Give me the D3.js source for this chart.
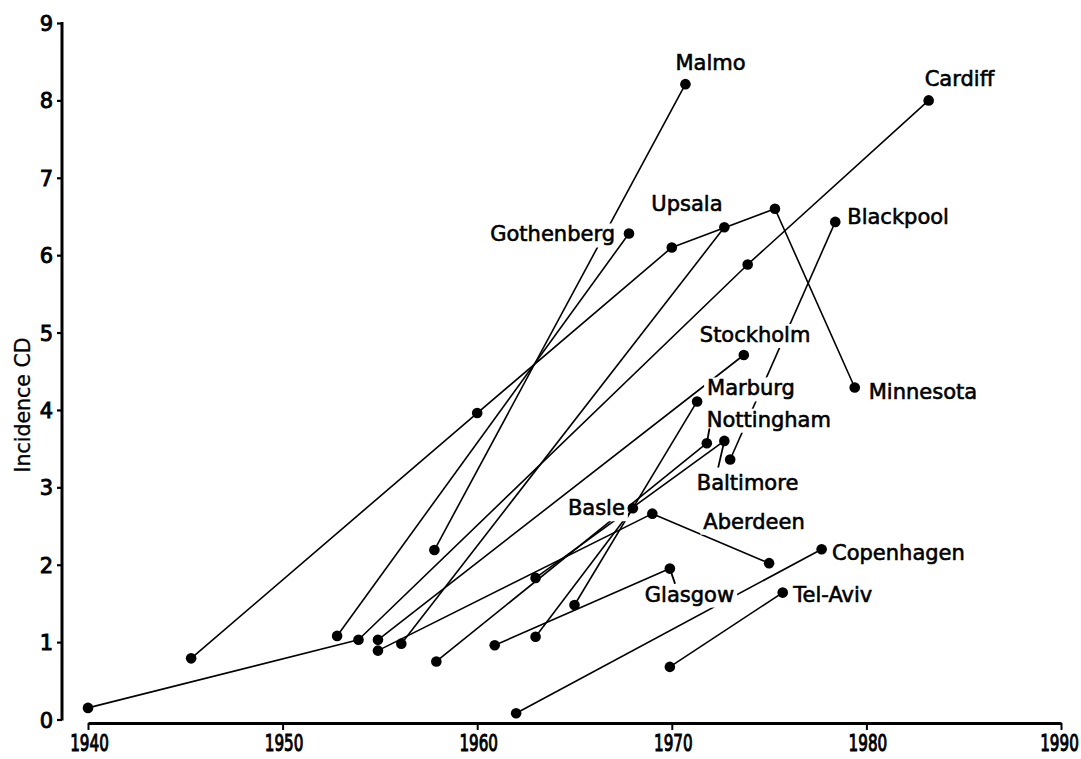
<!DOCTYPE html>
<html>
<head>
<meta charset="utf-8">
<script src="https://cdn.jsdelivr.net/npm/d3@7"></script>
<style>
  html, body { margin: 0; padding: 0; background: #fff; }
  svg { display: block; }
</style>
</head>
<body>
<svg id="chart" width="1081" height="759"></svg>
<script>
// Axis ticks
const yearTicks = [1940, 1950, 1960, 1970, 1980, 1990];
const incidenceTicks = [0, 1, 2, 3, 4, 5, 6, 7, 8, 9];

// Crohn's disease incidence per survey: [mid-year of period, incidence]
const cardiff    = [[1940.0, 0.15], [1953.9, 1.03], [1973.9, 5.88], [1983.2, 8.00]];
const minnesota  = [[1945.3, 0.79], [1960.0, 3.96], [1970.0, 6.10], [1975.3, 6.60], [1979.4, 4.29]];
const gothenberg = [[1952.8, 1.08], [1967.8, 6.28]];
const malmo      = [[1957.8, 2.19], [1970.7, 8.21]];
const upsala     = [[1956.1, 0.98], [1972.7, 6.36]];
const stockholm  = [[1954.9, 1.03], [1973.7, 4.71]];
const aberdeen   = [[1954.9, 0.89], [1969.0, 2.66], [1975.0, 2.02]];
const nottingham = [[1957.9, 0.75], [1971.8, 3.57]];
const baltimore  = [[1963.0, 1.83], [1972.7, 3.60]];
const blackpool  = [[1973.0, 3.36], [1978.4, 6.43]];
const basle      = [[1963.0, 1.07], [1968.0, 2.73]];
const marburg    = [[1965.0, 1.48], [1971.3, 4.11]];
const glasgow    = [[1960.9, 0.96], [1969.9, 1.95]];
const copenhagen = [[1962.0, 0.08], [1977.7, 2.20]];
const telAviv    = [[1969.9, 0.68], [1975.7, 1.64]];

const cityNames = ["Malmo", "Cardiff", "Gothenberg", "Upsala", "Blackpool", "Stockholm",
  "Minnesota", "Marburg", "Nottingham", "Baltimore", "Basle", "Aberdeen",
  "Copenhagen", "Glasgow", "Tel-Aviv"];
const citySeries = [malmo, cardiff, gothenberg, upsala, blackpool, stockholm,
  minnesota, marburg, nottingham, baltimore, basle, aberdeen,
  copenhagen, glasgow, telAviv];

// Label placement: pixel offset from an anchor point of the series (default: last point),
// optional leader line from that point.
const labelLayout = {
  "Malmo":      { dx: -10, dy: -14 },
  "Cardiff":    { dx: -4,  dy: -14 },
  "Gothenberg": { dx: -14, dy: 8, anchor: "end" },
  "Upsala":     { dx: -73, dy: -16.5 },
  "Blackpool":  { dx: 12,  dy: 2 },
  "Stockholm":  { dx: -44, dy: -13 },
  "Minnesota":  { dx: 14,  dy: 11.5 },
  "Marburg":    { dx: 10,  dy: -6 },
  "Nottingham": { dx: 0,   dy: -16.5, leader: [2.5, -14] },
  "Baltimore":  { dx: -27.6, dy: 49, leader: [-6, 26] },
  "Basle":      { dx: -8,  dy: 7, anchor: "end" },
  "Aberdeen":   { at: 1, dx: 51, dy: 15 },
  "Copenhagen": { dx: 10.4, dy: 11 },
  "Glasgow":    { dx: -25, dy: 33, leader: [5, 14.5] },
  "Tel-Aviv":   { dx: 10.6, dy: 9 }
};

const svg = d3.select("#chart");
const FONT = "'DejaVu Sans', Verdana, sans-serif";

const x = d3.scaleLinear().domain([1940, 1990]).range([88, 1061]);
const y = d3.scaleLinear().domain([0, 9]).range([719.5, 23]);

// Y axis
const yAxis = svg.append("g")
  .attr("transform", "translate(62,0)")
  .call(d3.axisLeft(y).tickValues(incidenceTicks).tickFormat(d3.format("d"))
    .tickSize(5).tickSizeOuter(0).tickPadding(4));
yAxis.select(".domain").attr("stroke", "#000").attr("stroke-width", 3)
  .attr("d", `M0,${y(9) - 1}V${y(0) + 1}`);
yAxis.selectAll(".tick line").attr("stroke", "#000").attr("stroke-width", 2.2);
yAxis.selectAll(".tick text")
  .attr("font-family", FONT).attr("font-size", 21)
  .attr("fill", "#000").attr("stroke", "#000").attr("stroke-width", 0.9)
  .attr("dy", "0.36em");

// X axis (year labels drawn in a narrow, condensed style)
const xAxis = svg.append("g")
  .attr("transform", "translate(0,723)")
  .call(d3.axisBottom(x).tickValues(yearTicks).tickFormat(d3.format("d"))
    .tickSize(7).tickSizeOuter(0).tickPadding(6));
xAxis.select(".domain").attr("stroke", "#000").attr("stroke-width", 3);
xAxis.selectAll(".tick line").attr("stroke", "#000").attr("stroke-width", 2);
xAxis.selectAll(".tick text")
  .attr("font-family", FONT).attr("font-size", 23)
  .attr("fill", "#000").attr("stroke", "#000").attr("stroke-width", 1.1)
  .attr("x", 0).attr("y", 13).attr("dy", "0.66em")
  .attr("transform", d => `translate(${d === 1990 ? -2 : 1},0) scale(0.66,1)`);

// Y axis title
svg.append("text")
  .attr("transform", `translate(30,${405}) rotate(-90)`)
  .attr("text-anchor", "middle")
  .attr("font-family", FONT).attr("font-size", 20.5)
  .attr("fill", "#000").attr("stroke", "#000").attr("stroke-width", 0.3)
  .text("Incidence CD");

const cities = cityNames.map((name, i) => ({ name, points: citySeries[i], layout: labelLayout[name] }));

const line = d3.line().x(d => x(d[0])).y(d => y(d[1]));

const gLines = svg.append("g");
const gKnock = svg.append("g");
const gLeaders = svg.append("g");
const gDots = svg.append("g");
const gLabels = svg.append("g");

gLines.selectAll("path").data(cities).join("path")
  .attr("d", d => line(d.points))
  .attr("fill", "none").attr("stroke", "#000").attr("stroke-width", 1.6)
  .attr("stroke-linejoin", "round");

function anchorPoint(c) {
  const idx = c.layout.at != null ? c.layout.at : c.points.length - 1;
  return c.points[idx];
}

// Leader lines from a point to its label
gLeaders.selectAll("line").data(cities.filter(c => c.layout.leader)).join("line")
  .attr("x1", c => x(anchorPoint(c)[0]))
  .attr("y1", c => y(anchorPoint(c)[1]))
  .attr("x2", c => x(anchorPoint(c)[0]) + c.layout.leader[0])
  .attr("y2", c => y(anchorPoint(c)[1]) + c.layout.leader[1])
  .attr("stroke", "#000").attr("stroke-width", 1.8).attr("stroke-linecap", "round");

// Survey points
gDots.selectAll("circle")
  .data(cities.flatMap(c => c.points))
  .join("circle")
  .attr("cx", d => x(d[0])).attr("cy", d => y(d[1]))
  .attr("r", 5.3).attr("fill", "#000");

// City labels
const labels = gLabels.selectAll("text").data(cities).join("text")
  .attr("x", c => x(anchorPoint(c)[0]) + c.layout.dx)
  .attr("y", c => y(anchorPoint(c)[1]) + c.layout.dy)
  .attr("text-anchor", c => c.layout.anchor || "start")
  .attr("font-family", FONT).attr("font-size", 21)
  .attr("fill", "#000").attr("stroke", "#000").attr("stroke-width", 0.6)
  .text(c => c.name);

// White knock-outs so lines break around the lettering
labels.each(function () {
  const b = this.getBBox();
  gKnock.append("rect")
    .attr("x", b.x - 3).attr("y", b.y + 1)
    .attr("width", b.width + 6).attr("height", b.height)
    .attr("fill", "#fff");
});
</script>
</body>
</html>
